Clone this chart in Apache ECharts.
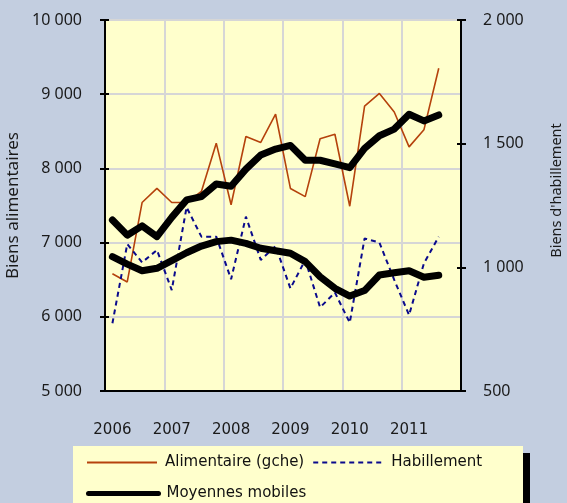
<!DOCTYPE html>
<html>
<head>
<meta charset="utf-8">
<script src="https://cdn.jsdelivr.net/npm/echarts@6/dist/echarts.min.js"></script>
<style>
  html, body { margin: 0; padding: 0; background: #c3cee0; }
  #chart { width: 567px; height: 503px; }
</style>
</head>
<body>
<div id="chart"></div>
<script>
// trimestres 2006 T1 -> 2011 T4 (derniere valeur : 2011 T3)
var quarters = [];
for (var y = 2006; y <= 2011; y++) {
  for (var q = 1; q <= 4; q++) quarters.push(y + ' T' + q);
}

var alimentaire = [6580, 6470, 7540, 7730, 7540, 7540, 7690, 8340, 7510, 8430, 8350, 8730,
                   7730, 7620, 8400, 8460, 7490, 8840, 9010, 8760, 8290, 8520, 9350];
var alimMM = [7305, 7100, 7225, 7080, 7340, 7575, 7620, 7790, 7760, 7990, 8180, 8260,
              8310, 8110, 8110, 8060, 8010, 8270, 8440, 8530, 8730, 8640, 8720];
var habillement = [774, 1094, 1020, 1070, 908, 1243, 1124, 1124, 952, 1205, 1030, 1086,
                   915, 1030, 838, 898, 776, 1117, 1100, 949, 807, 1016, 1124];
var habMM = [1043, 1013, 986, 996, 1027, 1059, 1086, 1104, 1110, 1097, 1077, 1067,
             1057, 1023, 962, 915, 884, 906, 969, 978, 986, 960, 968];

function fmt(v) {
  return String(v).replace(/\B(?=(\d{3})+(?!\d))/g, ' ');
}

var chart = echarts.init(document.getElementById('chart'));

var labelFont = { color: '#1a1a1a', fontFamily: 'Noto Sans', fontSize: 16 };
var legendText = { color: '#111', fontFamily: 'DejaVu Sans', fontSize: 15, padding: [0, 0, 0, 3] };

var option = {
  backgroundColor: '#c3cee0',
  animation: false,
  grid: {
    left: 105, top: 20, width: 356, height: 371,
    outerBoundsMode: 'none',
    containLabel: false,
    show: true,
    backgroundColor: '#ffffcc',
    borderColor: '#8a8a8a',
    borderWidth: 2
  },
  graphic: [{
    type: 'rect',
    shape: { x: 73, y: 446, width: 450, height: 70 },
    style: { fill: '#ffffcc', shadowColor: '#000', shadowOffsetX: 7, shadowOffsetY: 7, shadowBlur: 0 },
    z: 0
  }],
  legend: [{
    data: ['Alimentaire (gche)', 'Habillement'],
    left: 86, top: 455,
    itemWidth: 70, itemHeight: 14, itemGap: 8, padding: 0,
    itemStyle: { opacity: 0 },
    textStyle: legendText
  }, {
    data: [{ name: 'Moyennes mobiles', lineStyle: { width: 5 } }],
    left: 86, top: 486,
    itemWidth: 70, itemHeight: 14, padding: 0,
    itemStyle: { opacity: 0 },
    textStyle: legendText
  }],
  xAxis: [{
    type: 'category',
    data: quarters,
    boundaryGap: true,
    axisLine: { lineStyle: { color: '#000', width: 2 } },
    axisTick: { interval: 3, length: 5, lineStyle: { color: '#000', width: 2 } },
    axisLabel: {
      interval: 3, margin: 32,
      color: '#1a1a1a', fontFamily: 'DejaVu Sans', fontSize: 15,
      formatter: function (v) { return v.split(' ')[0]; }
    },
    splitLine: { show: true, interval: 3, lineStyle: { color: '#d6d6d6', width: 2 } }
  }, {
    type: 'category',
    data: quarters,
    position: 'bottom',
    axisLine: { show: false },
    axisTick: { inside: true, interval: 3, length: 4, lineStyle: { color: '#000', width: 2 } },
    axisLabel: { show: false },
    splitLine: { show: false }
  }],
  yAxis: [{
    type: 'value',
    min: 5000, max: 10000, interval: 1000,
    name: 'Biens alimentaires',
    nameLocation: 'middle', nameGap: 76,
    nameTextStyle: Object.assign({}, labelFont, { fontSize: 17 }),
    axisLine: { show: true, lineStyle: { color: '#000', width: 2 } },
    axisTick: { show: true, length: 5, lineStyle: { color: '#000', width: 2 } },
    axisLabel: Object.assign({ margin: 23, formatter: fmt }, labelFont),
    splitLine: { lineStyle: { color: '#d6d6d6', width: 2 } }
  }, {
    type: 'value',
    min: 500, max: 2000, interval: 500,
    position: 'right',
    name: "Biens d'habillement",
    nameLocation: 'middle', nameGap: 88,
    nameTextStyle: Object.assign({ padding: [0, 0, 0, 30] }, labelFont, { fontSize: 14.5 }),
    axisLine: { show: true, lineStyle: { color: '#000', width: 2 } },
    axisTick: { show: true, length: 5, lineStyle: { color: '#000', width: 2 } },
    axisLabel: Object.assign({ margin: 22, formatter: fmt }, labelFont),
    splitLine: { show: false }
  }, {
    type: 'value',
    min: 5000, max: 10000, interval: 1000,
    position: 'left',
    axisLine: { show: false },
    axisTick: { show: true, inside: true, length: 4, lineStyle: { color: '#000', width: 2 } },
    axisLabel: { show: false },
    splitLine: { show: false }
  }, {
    type: 'value',
    min: 500, max: 2000, interval: 500,
    position: 'right',
    axisLine: { show: false },
    axisTick: { show: true, inside: true, length: 4, lineStyle: { color: '#000', width: 2 } },
    axisLabel: { show: false },
    splitLine: { show: false }
  }],
  series: [{
    name: 'Alimentaire (gche)',
    type: 'line',
    data: alimentaire,
    yAxisIndex: 0,
    symbol: 'none',
    itemStyle: { color: '#b5420c' },
    lineStyle: { color: '#b5420c', width: 1.6 }
  }, {
    name: 'Habillement',
    type: 'line',
    data: habillement,
    yAxisIndex: 1,
    symbol: 'none',
    itemStyle: { color: '#0a0a8c' },
    lineStyle: { color: '#0a0a8c', width: 2, type: [5, 4] }
  }, {
    name: 'Moyennes mobiles',
    type: 'line',
    data: alimMM,
    yAxisIndex: 0,
    symbol: 'none',
    itemStyle: { color: '#000' },
    lineStyle: { color: '#000', width: 7, cap: 'round', join: 'round' }
  }, {
    name: 'Moyennes mobiles',
    type: 'line',
    data: habMM,
    yAxisIndex: 1,
    symbol: 'none',
    itemStyle: { color: '#000' },
    lineStyle: { color: '#000', width: 7, cap: 'round', join: 'round' }
  }]
};

chart.setOption(option);
</script>
</body>
</html>
